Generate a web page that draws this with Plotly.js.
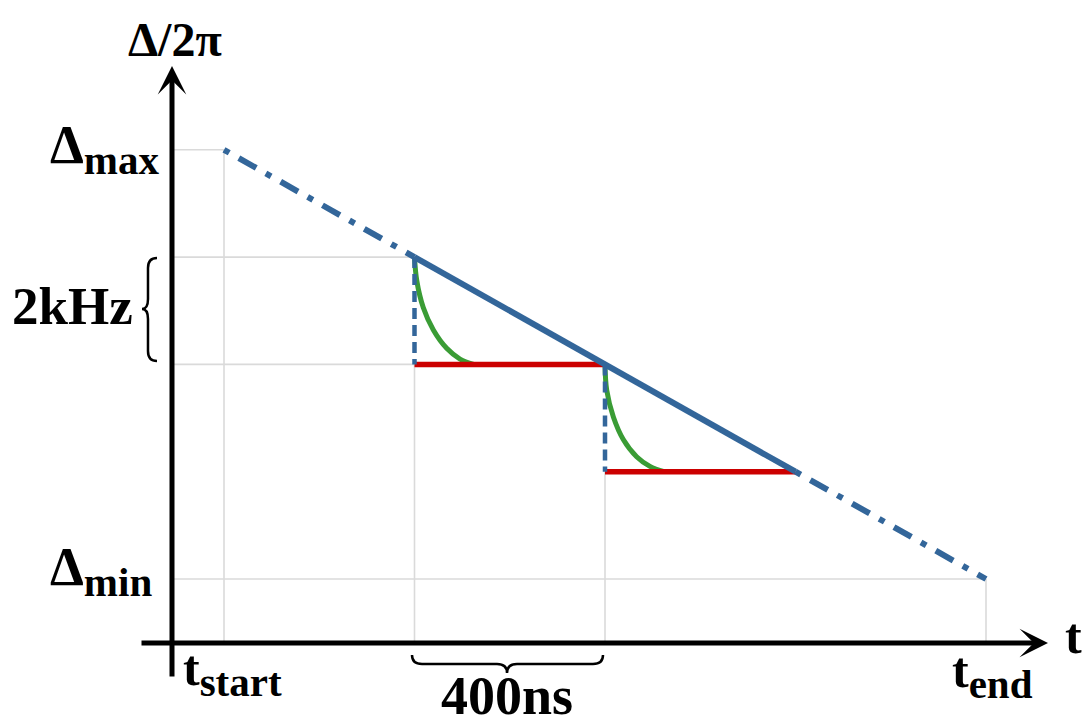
<!DOCTYPE html>
<html>
<head>
<meta charset="utf-8">
<script src="https://cdn.plot.ly/plotly-3.0.1.min.js"></script>
<style>html,body{margin:0;padding:0;background:#fff;}#chart{width:1083px;height:719px;}</style>
</head>
<body>
<div id="chart"></div>
<script>
// ---- data (time in units of 400 ns steps, detuning in units of 2 kHz) ----
const timeTicks   = [0, 1, 2, 4];          // t_start, step 1, step 2, t_end
const timeGuideTop = [4, 2, 1, 0];         // vertical guide tops
const detuneTicks = [4, 3, 2, 0];          // Δmax, Δmax-2kHz, next step, Δmin
const detuneGuideEnd = [0, 1, 1, 4];       // horizontal guide ends

const rampT = [0, 1, 3, 4];
const rampD = [4, 3, 1, 0];

const stepStartT = [1, 2];
const stepEndT   = [2, 3];
const stepTop    = [3, 2];
const stepLevel  = [2, 1];

const settle1T = [1.0, 1.012, 1.046, 1.099, 1.169, 1.239, 1.31];
const settle1D = [3.0, 2.78, 2.53, 2.32, 2.15, 2.05, 2.0];
const settle2T = [2.0, 2.009, 2.044, 2.096, 2.166, 2.236, 2.31];
const settle2D = [2.0, 1.76, 1.51, 1.30, 1.14, 1.05, 1.0];

// ---- layout helpers (pixel -> data for decorations) ----
const W = 1083, H = 719;
const PX = p => (p - 224) / 190.5;
const PY = p => (579 - p) / 107.3;
const axisT = PX(172);   // where the vertical axis sits
const axisD = PY(643);   // where the horizontal axis sits

const BLUE = '#33669a', GREEN = '#3a9c35', RED = '#cc0000', GRID = '#dadada';
const FONT = 'Liberation Serif';

const traces = [];
// guides
timeTicks.forEach((t, i) => traces.push({x: [t, t], y: [axisD, timeGuideTop[i]], mode: 'lines',
  line: {color: GRID, width: 1.6}, hoverinfo: 'skip'}));
detuneTicks.forEach((d, i) => traces.push({x: [axisT, detuneGuideEnd[i]], y: [d, d], mode: 'lines',
  line: {color: GRID, width: 1.6}, hoverinfo: 'skip'}));
// settling curves
[[settle1T, settle1D], [settle2T, settle2D]].forEach(([xs, ys]) => traces.push({x: xs, y: ys, mode: 'lines',
  line: {color: GREEN, width: 5, shape: 'spline', smoothing: 1}, hoverinfo: 'skip'}));
// hold levels
stepStartT.forEach((t, i) => traces.push({x: [t, stepEndT[i]], y: [stepLevel[i], stepLevel[i]], mode: 'lines',
  line: {color: RED, width: 5.5}, hoverinfo: 'skip'}));
// jumps
stepStartT.forEach((t, i) => traces.push({x: [t, t], y: [stepTop[i], stepLevel[i]], mode: 'lines',
  line: {color: BLUE, width: 4.5, dash: '11px,6px'}, hoverinfo: 'skip'}));
// ramp
traces.push({x: rampT.slice(0, 2), y: rampD.slice(0, 2), mode: 'lines', line: {color: BLUE, width: 6, dash: '6px,11px,20px,11px'}, hoverinfo: 'skip'});
traces.push({x: rampT.slice(1, 3), y: rampD.slice(1, 3), mode: 'lines', line: {color: BLUE, width: 6}, hoverinfo: 'skip'});
traces.push({x: rampT.slice(2, 4), y: rampD.slice(2, 4), mode: 'lines', line: {color: BLUE, width: 6, dash: '6px,11px,20px,11px'}, hoverinfo: 'skip'});

function pathFromPx(cmds) {
  return cmds.map(c => c[0] + ' ' + c.slice(1).map((v, k) => (k % 2 === 0 ? PX(v) : PY(v)).toFixed(4)).join(',')).join(' ');
}
const vBrace = pathFromPx([
  ['M', 157, 258], ['Q', 148, 258, 148, 268], ['L', 148, 299], ['Q', 148, 309, 142, 309],
  ['Q', 148, 309, 148, 319], ['L', 148, 351], ['Q', 148, 361, 157, 361]]);
const hBrace = pathFromPx([
  ['M', 412, 655], ['Q', 412, 664, 422, 664], ['L', 497, 664], ['Q', 507, 664, 507, 673],
  ['Q', 507, 664, 517, 664], ['L', 593, 664], ['Q', 603, 664, 603, 655]]);

const sub = s => '<sub><span style="font-family:\'Liberation Serif\';font-weight:bold;font-size:41px">' + s + '</span></sub>';
const lab = (text, x, y, xa, size) => ({text, x, y, xref: 'x', yref: 'y', xanchor: xa, yanchor: 'middle',
  showarrow: false, font: {family: FONT, size: size || 54, color: '#000', weight: 'bold'}});

const annotations = [
  // axes with arrow heads
  {x: axisT, y: PY(66), ax: axisT, ay: PY(678), xref: 'x', yref: 'y', axref: 'x', ayref: 'y', text: '',
   showarrow: true, arrowhead: 3, arrowsize: 0.95, arrowwidth: 5, arrowcolor: '#000'},
  {x: PX(1048), y: axisD, ax: PX(140), ay: axisD, xref: 'x', yref: 'y', axref: 'x', ayref: 'y', text: '',
   showarrow: true, arrowhead: 3, arrowsize: 0.95, arrowwidth: 5, arrowcolor: '#000'},
  lab('Δ/2π', PX(175), PY(39), 'center', 48),
  lab('t', PX(1063), PY(636), 'left', 50),
  lab('Δ' + sub('max'), PX(162), PY(149), 'right'),
  lab('Δ' + sub('min'), PX(154), PY(571), 'right'),
  lab('2kHz', PX(135), PY(306), 'right', 53),
  lab('t' + sub('start'), PX(181), PY(672), 'left', 50),
  lab('t' + sub('end'), PX(950), PY(674), 'left', 50),
  lab('400ns', PX(507), PY(696), 'center', 54)
];

const layout = {
  width: W, height: H, margin: {l: 0, r: 0, t: 0, b: 0},
  paper_bgcolor: '#fff', plot_bgcolor: '#fff', showlegend: false,
  xaxis: {range: [PX(0), PX(W)], visible: false, fixedrange: true},
  yaxis: {range: [PY(H), PY(0)], visible: false, fixedrange: true},
  shapes: [
    {type: 'path', path: vBrace, xref: 'x', yref: 'y', line: {color: '#000', width: 2.5}},
    {type: 'path', path: hBrace, xref: 'x', yref: 'y', line: {color: '#000', width: 2.5}}
  ],
  annotations
};
Plotly.newPlot('chart', traces, layout, {staticPlot: true, displayModeBar: false});
</script>
</body>
</html>
